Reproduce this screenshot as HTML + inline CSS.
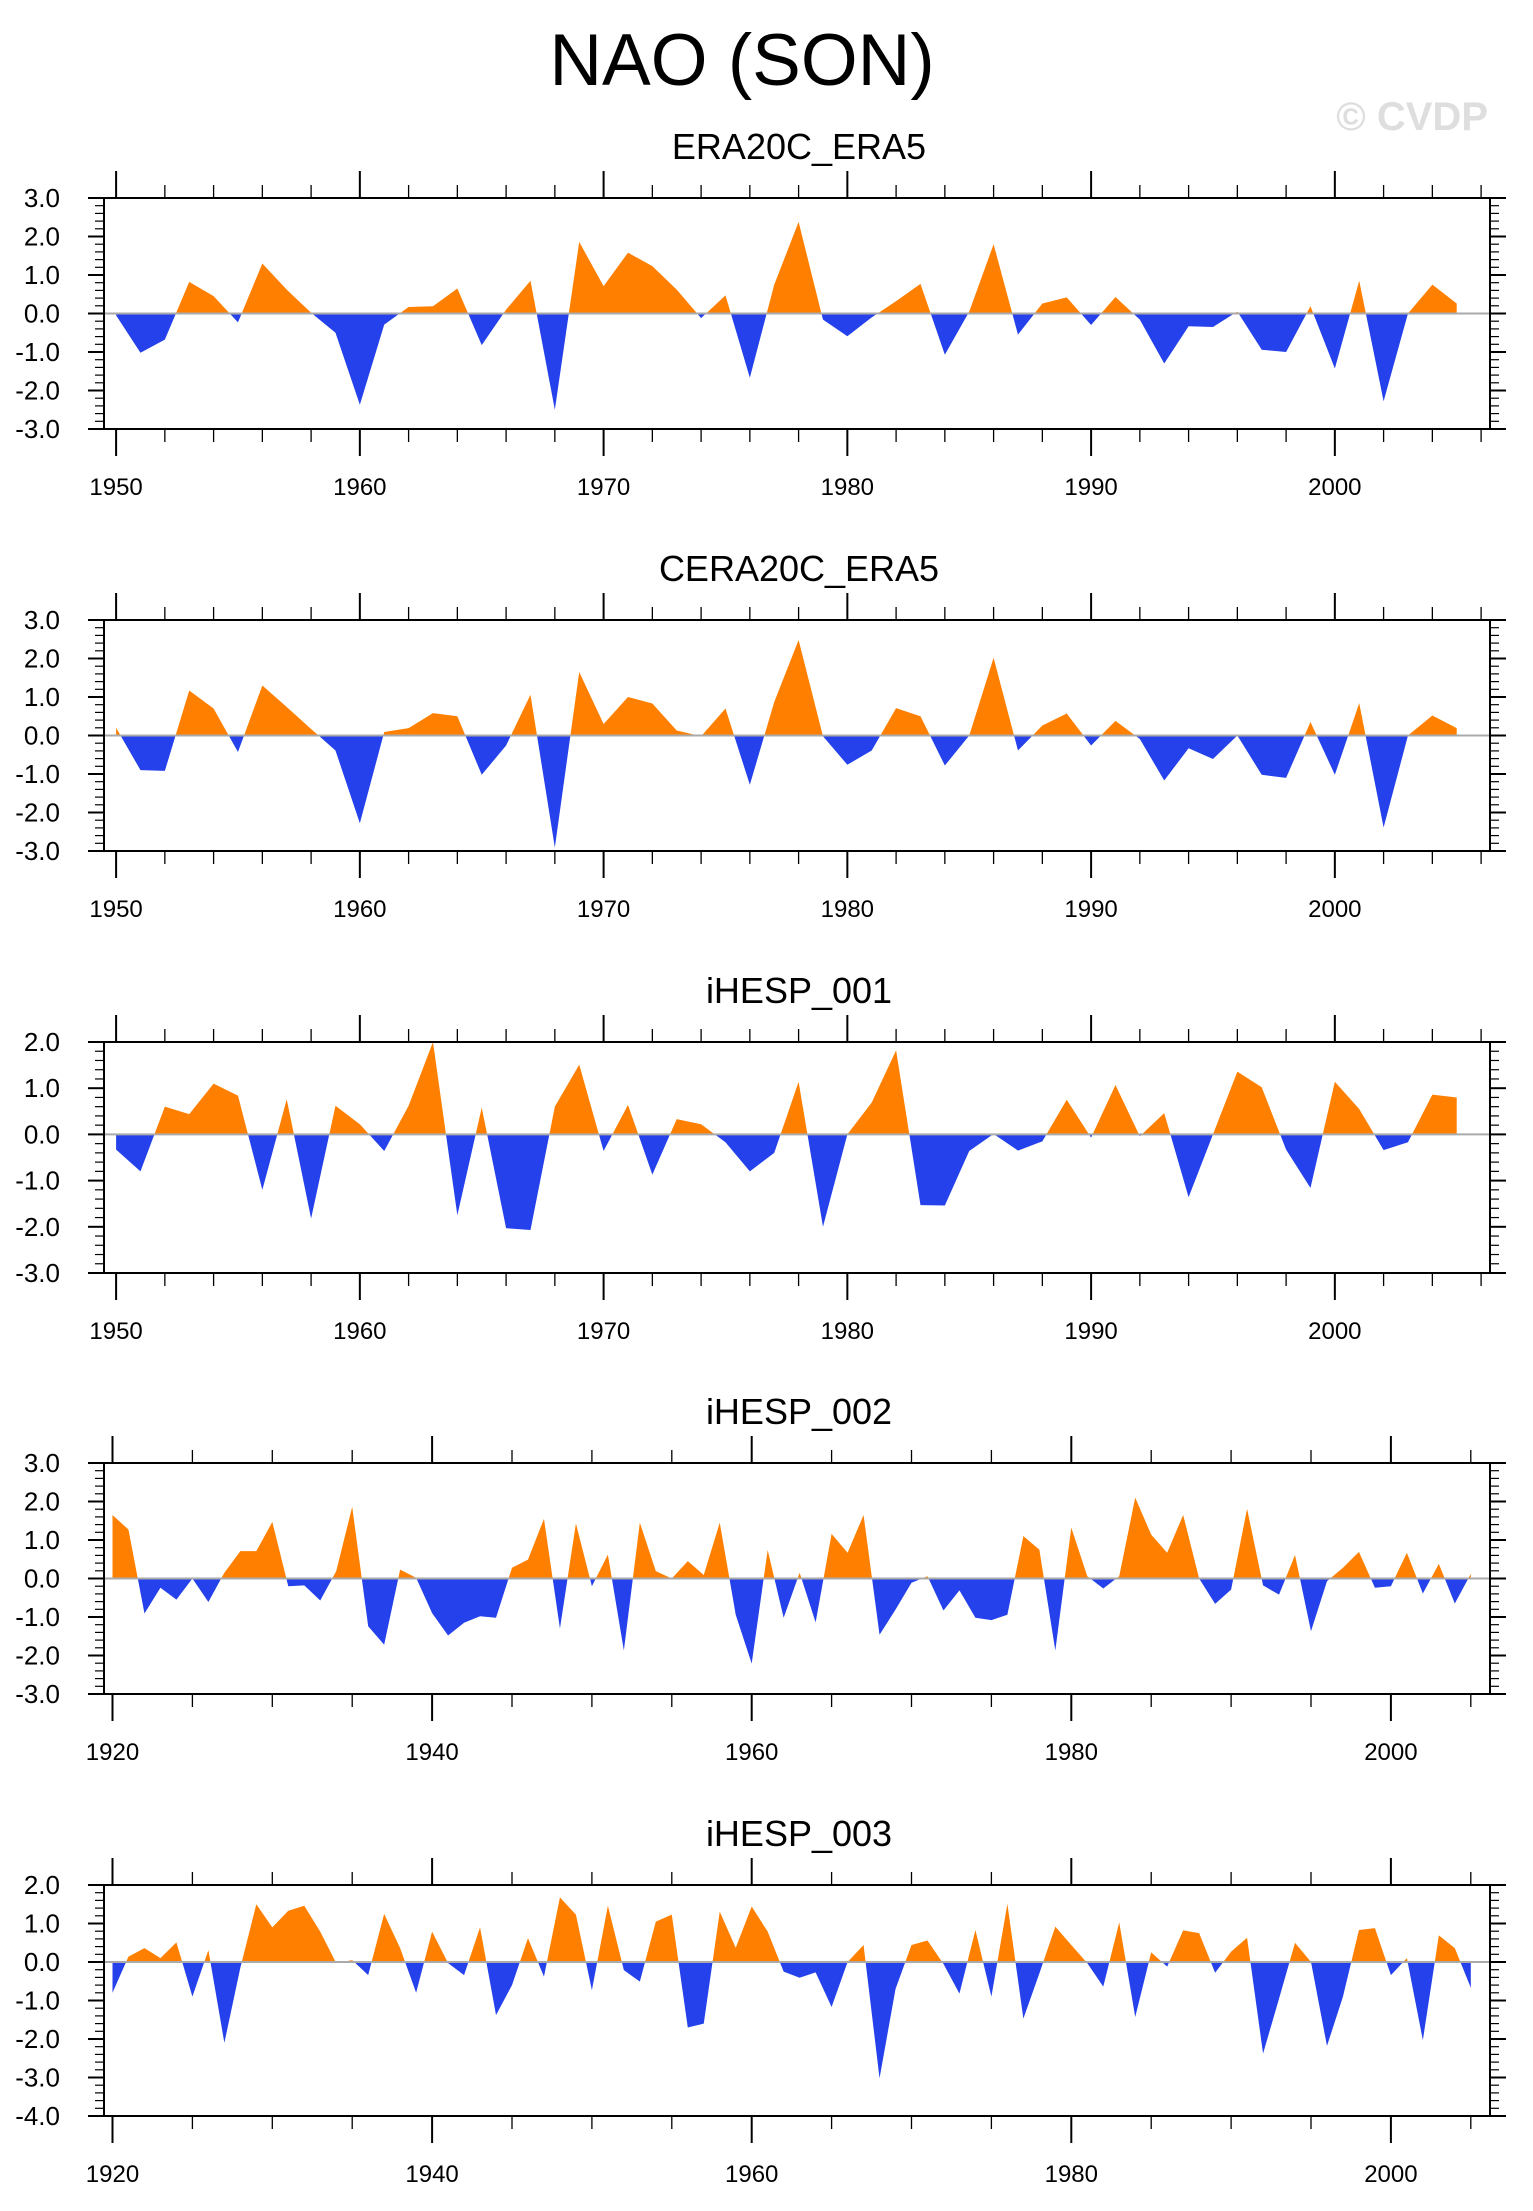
<!DOCTYPE html>
<html><head><meta charset="utf-8">
<style>
html,body{margin:0;padding:0;background:#fff;}
svg{display:block;font-family:"Liberation Sans",Arial,sans-serif;}
</style></head>
<body>
<svg id="chart" width="1533" height="2211" viewBox="0 0 1533 2211" xmlns="http://www.w3.org/2000/svg">
<text x="742" y="85" font-size="73" text-anchor="middle" fill="#000">NAO (SON)</text>
<text x="1488" y="130" font-size="40" font-weight="bold" text-anchor="end" fill="#dedede">© CVDP</text>
</svg>
<script>
const titles = ["ERA20C_ERA5","CERA20C_ERA5","iHESP_001","iHESP_002","iHESP_003"];
const startYears = [1950,1950,1950,1920,1920];
const yMaxs = [3,3,2,3,2];
const yMins = [-3,-3,-3,-3,-4];
const era20c = [-0.05,-1.02,-0.68,0.82,0.45,-0.23,1.3,0.62,0.02,-0.5,-2.37,-0.29,0.17,0.19,0.65,-0.82,0.1,0.85,-2.5,1.86,0.71,1.58,1.23,0.62,-0.12,0.47,-1.67,0.75,2.38,-0.16,-0.59,-0.1,0.32,0.77,-1.07,0.05,1.8,-0.55,0.26,0.42,-0.3,0.43,-0.16,-1.3,-0.33,-0.35,0.05,-0.94,-1.0,0.19,-1.43,0.85,-2.28,0.0,0.75,0.26];
const cera20c = [0.2,-0.9,-0.92,1.17,0.7,-0.43,1.3,0.74,0.17,-0.39,-2.28,0.09,0.19,0.58,0.5,-1.02,-0.26,1.06,-2.91,1.65,0.3,1.0,0.83,0.13,-0.02,0.7,-1.28,0.87,2.48,-0.02,-0.76,-0.39,0.71,0.5,-0.78,0.0,2.02,-0.39,0.26,0.57,-0.26,0.38,-0.09,-1.17,-0.33,-0.61,0.0,-1.02,-1.1,0.35,-1.02,0.84,-2.39,0.0,0.52,0.19];
const ihesp001 = [-0.33,-0.8,0.6,0.44,1.1,0.84,-1.2,0.76,-1.82,0.62,0.22,-0.36,0.62,2.0,-1.75,0.58,-2.03,-2.07,0.6,1.51,-0.36,0.64,-0.87,0.33,0.22,-0.17,-0.8,-0.4,1.14,-2.0,0.0,0.69,1.82,-1.53,-1.54,-0.36,0.01,-0.35,-0.15,0.75,-0.07,1.07,-0.04,0.46,-1.36,0.0,1.36,1.02,-0.33,-1.16,1.14,0.55,-0.34,-0.17,0.86,0.8];
const ihesp002 = [1.65,1.27,-0.91,-0.24,-0.55,0.0,-0.61,0.15,0.71,0.71,1.47,-0.2,-0.18,-0.57,0.19,1.86,-1.24,-1.72,0.23,0.02,-0.9,-1.48,-1.15,-0.98,-1.02,0.28,0.49,1.55,-1.3,1.43,-0.2,0.62,-1.87,1.45,0.19,0.0,0.45,0.09,1.45,-0.94,-2.21,0.74,-1.02,0.15,-1.14,1.16,0.67,1.65,-1.46,-0.81,-0.11,0.06,-0.83,-0.31,-1.02,-1.08,-0.94,1.1,0.75,-1.87,1.32,0.06,-0.26,0.06,2.1,1.14,0.67,1.65,0.0,-0.66,-0.29,1.81,-0.18,-0.42,0.61,-1.37,-0.07,0.28,0.69,-0.24,-0.2,0.67,-0.39,0.38,-0.65,0.12];
const ihesp003 = [-0.8,0.14,0.36,0.1,0.51,-0.9,0.31,-2.1,-0.15,1.5,0.9,1.33,1.46,0.79,-0.03,0.05,-0.34,1.25,0.36,-0.8,0.79,-0.03,-0.34,0.9,-1.38,-0.6,0.62,-0.38,1.68,1.23,-0.73,1.46,-0.21,-0.51,1.05,1.23,-1.7,-1.6,1.31,0.37,1.44,0.79,-0.25,-0.41,-0.27,-1.17,0.0,0.44,-3.02,-0.7,0.44,0.56,-0.05,-0.82,0.83,-0.9,1.51,-1.47,-0.3,0.92,0.44,-0.03,-0.64,1.03,-1.43,0.25,-0.12,0.82,0.75,-0.28,0.27,0.63,-2.38,-0.95,0.5,0.0,-2.18,-0.9,0.83,0.88,-0.34,0.1,-2.03,0.69,0.36,-0.67];
const seriesList = [era20c,cera20c,ihesp001,ihesp002,ihesp003];
const xTickYears = [[1950,1960,1970,1980,1990,2000],[1950,1960,1970,1980,1990,2000],[1950,1960,1970,1980,1990,2000],[1920,1940,1960,1980,2000],[1920,1940,1960,1980,2000]];

const NS="http://www.w3.org/2000/svg";
const svg=document.getElementById('chart');
function mk(tag,attrs,parent){const e=document.createElementNS(NS,tag);for(const k in attrs)e.setAttribute(k,attrs[k]);(parent||svg).appendChild(e);return e;}
const panelTops=[198,620,1042,1463,1885];
const BOXL=104,BOXR=1490,BOXH=231;
for(let p=0;p<5;p++){
  const top=panelTops[p],bot=top+BOXH;
  const y0=startYears[p];
  const early=(y0===1920);
  const xScale=yr=> early ? 112.5+15.98*(yr-1920) : 116.1+24.375*(yr-1950);
  const yScale=v=> top+(yMaxs[p]-v)/(yMaxs[p]-yMins[p])*BOXH;
  const g=mk('g',{});
  
  
  const t=mk('text',{x:799,y:top-39,'font-size':36,'text-anchor':'middle',fill:'#000'},g);
  t.textContent=titles[p];
  
  
  const zy=yScale(0);
  const cpA=mk('clipPath',{id:'pos'+p},g);mk('rect',{x:0,y:top,width:1533,height:zy-top},cpA);
  const cpB=mk('clipPath',{id:'neg'+p},g);mk('rect',{x:0,y:zy,width:1533,height:bot-zy},cpB);
  const data=seriesList[p];
  let pts=xScale(y0).toFixed(2)+','+zy.toFixed(2)+' ';
  data.forEach((v,i)=>{pts+=xScale(y0+i).toFixed(2)+','+yScale(v).toFixed(2)+' ';});
  pts+=xScale(y0+data.length-1).toFixed(2)+','+zy.toFixed(2);
  const pa=mk('polygon',{points:pts,fill:'#ff8000','clip-path':'url(#pos'+p+')'},g);
  
  
  const na=mk('polygon',{points:pts,fill:'#2541eb','clip-path':'url(#neg'+p+')'},g);
  
  
  const zl=mk('line',{x1:BOXL,x2:BOXR,y1:zy,y2:zy,stroke:'#aaa','stroke-width':2},g);
  
  
  const box=mk('rect',{x:BOXL,y:top,width:BOXR-BOXL,height:BOXH,fill:'none',stroke:'#000','stroke-width':2},g);
  
  
  const yrEnd=y0+ (early?88:58);
  const minorStep=early?5:2, majorStep=early?20:10;
  for(let yr=y0;yr<=yrEnd;yr+=minorStep){
    const x=xScale(yr); if(x>BOXR) break;
    const major=((yr-y0)%majorStep===0);
    const L=major?27:13;
    mk('line',{x1:x,x2:x,y1:top,y2:top-L,stroke:'#000','stroke-width':major?2:1.3},g);
    mk('line',{x1:x,x2:x,y1:bot,y2:bot+L,stroke:'#000','stroke-width':major?2:1.3},g);
  }
  xTickYears[p].forEach(yr=>{
    const tl=mk('text',{x:xScale(yr),y:bot+66,'font-size':24,'text-anchor':'middle',fill:'#000'},g);
    tl.textContent=String(yr);
    
    
  });
  for(let k=Math.round(yMins[p]*5);k<=Math.round(yMaxs[p]*5);k++){
    const v=k/5,y=yScale(v),major=(k%5===0);
    const L=major?16:9;
    mk('line',{x1:BOXL,x2:BOXL-L,y1:y,y2:y,stroke:'#000','stroke-width':major?2:1.2},g);
    mk('line',{x1:BOXR,x2:BOXR+L,y1:y,y2:y,stroke:'#000','stroke-width':major?2:1.2},g);
    if(major){
      const yl=mk('text',{x:60,y:y+9,'font-size':26,'text-anchor':'end',fill:'#000'},g);
      yl.textContent=v.toFixed(1);
      
      
    }
  }
}
</script>
</body></html>
